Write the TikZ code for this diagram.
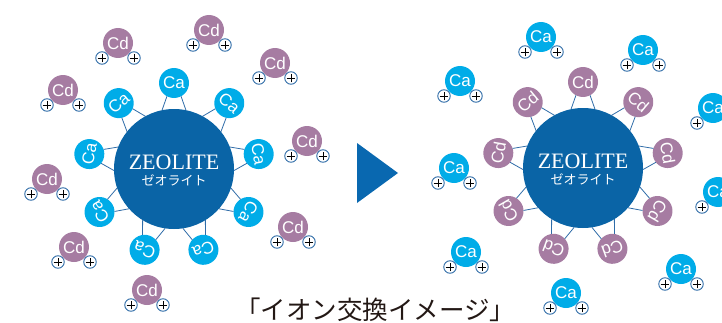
\documentclass[tikz,border=0pt]{standalone}
\usepackage{fontspec}
\setmainfont{Liberation Serif}
\setsansfont{Liberation Sans}
\newfontfamily\cjk{Noto Sans CJK JP}
\usetikzlibrary{calc}
\definecolor{zeoblue}{HTML}{0A64A6}
\definecolor{cacyan}{HTML}{00ACE8}
\definecolor{cdpurple}{HTML}{A67CA2}
\definecolor{linkblue}{HTML}{2F6CA8}
\definecolor{arrowblue}{HTML}{0968B0}
\definecolor{captext}{HTML}{231815}
\newcommand\freeion[4]{%
  \node[#3] (#1) at (#2) {#4};
  \node[plusc] (#1p1) at ($(#1)+(-16,-15)$) {};
  \node[plusc] (#1p2) at ($(#1)+(16,-15)$) {};}
\begin{document}
\begin{tikzpicture}[x=1pt,y=1pt,
  zeo/.style={circle,fill=zeoblue,minimum size=120pt,inner sep=0pt,outer sep=0pt},
  ion/.style={circle,minimum size=30pt,inner sep=0pt,outer sep=0pt,text=white,font=\sffamily\fontsize{17}{17}\selectfont},
  caion/.style={ion,fill=cacyan},
  cdion/.style={ion,fill=cdpurple},
  plusc/.style={circle,draw=linkblue,line width=0.9pt,fill=white,minimum size=12.5pt,inner sep=0pt,
    path picture={\draw[black,line width=0.75pt] ($(path picture bounding box.center)+(-4.4,0)$) -- ++(8.8,0) ($(path picture bounding box.center)+(0,-4.4)$) -- ++(0,8.8);}},
  link/.style={draw=linkblue,line width=0.8pt},
  zeotxt/.style={text=white,font=\rmfamily\fontsize{22}{22}\selectfont,inner sep=0pt},
  zeojp/.style={text=white,font=\cjk\fontsize{13}{13}\selectfont,inner sep=0pt},
]
\useasboundingbox (0,0) rectangle (722,322);
\clip (0,0) rectangle (722,322);

% left zeolite
\node[zeo] (Lz) at (174,153) {};
\foreach \a [count=\i] in {90,50,10,-30,-70,-110,-150,-190,-230}{
  \node[caion,rotate=\a-90] (LS\i) at ($(Lz)+(\a:86)$) {Ca};
  \draw[link] ($(Lz)+(\a+11.5:60)$) -- (LS\i.242);
  \draw[link] ($(Lz)+(\a-11.5:60)$) -- (LS\i.298);
}
\node[zeotxt] (Lt1) at ($(Lz)+(0,7)$) {ZEOLITE};
\node[zeojp] (Lt2) at ($(Lz)+(0,-11)$) {ゼオライト};

% left free Cd ions
\freeion{LF1}{118,279}{cdion}{Cd}
\freeion{LF2}{209,292}{cdion}{Cd}
\freeion{LF3}{275,259}{cdion}{Cd}
\freeion{LF4}{63,232}{cdion}{Cd}
\freeion{LF5}{307,181}{cdion}{Cd}
\freeion{LF6}{47,143}{cdion}{Cd}
\freeion{LF7}{293,95}{cdion}{Cd}
\freeion{LF8}{74,75}{cdion}{Cd}
\freeion{LF9}{147,32}{cdion}{Cd}

% arrow
\fill[arrowblue] (357,179) -- (357,119) -- (398,149) -- cycle;

% right zeolite
\node[zeo] (Rz) at (583,154) {};
\foreach \a [count=\i] in {90,50,10,-30,-70,-110,-150,-190,-230}{
  \node[cdion,rotate=\a-90] (RS\i) at ($(Rz)+(\a:86)$) {Cd};
  \draw[link] ($(Rz)+(\a+11.5:60)$) -- (RS\i.242);
  \draw[link] ($(Rz)+(\a-11.5:60)$) -- (RS\i.298);
}
\node[zeotxt] (Rt1) at ($(Rz)+(0,7)$) {ZEOLITE};
\node[zeojp] (Rt2) at ($(Rz)+(0,-11)$) {ゼオライト};

% right free Ca ions
\freeion{RF1}{541,285}{caion}{Ca}
\freeion{RF2}{643,272}{caion}{Ca}
\freeion{RF3}{460,241}{caion}{Ca}
\freeion{RF4}{713,214}{caion}{Ca}
\freeion{RF5}{454,154}{caion}{Ca}
\freeion{RF6}{718,130}{caion}{Ca}
\freeion{RF7}{466,70}{caion}{Ca}
\freeion{RF8}{566,29}{caion}{Ca}
\freeion{RF9}{681,53}{caion}{Ca}

% caption
\node[text=captext,font=\cjk\fontsize{25.5}{25.5}\selectfont,inner sep=0pt] (cap) at (375,12) {「イオン交換イメージ」};
\end{tikzpicture}
\end{document}
